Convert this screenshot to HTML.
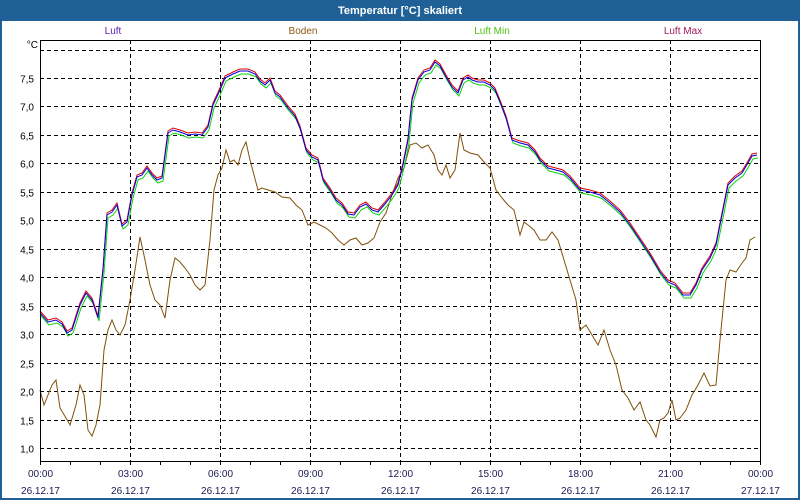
<!DOCTYPE html>
<html><head><meta charset="utf-8"><style>
html,body{margin:0;padding:0;width:800px;height:500px;overflow:hidden;background:#fff}
svg{display:block}
</style></head><body>
<svg id="s" width="800" height="500" xmlns="http://www.w3.org/2000/svg" font-family="Liberation Sans, sans-serif">
<rect x="0" y="0" width="800" height="500" fill="#fff"/>
<rect x="1" y="1" width="798" height="498" fill="none" stroke="#1f6196" stroke-width="2"/>
<rect x="0" y="0" width="800" height="21" fill="#1f6196"/>
<text x="400" y="14" text-anchor="middle" fill="#fff" font-size="11" font-weight="bold">Temperatur [°C] skaliert</text>
<text x="113" y="34" text-anchor="middle" fill="#5a1fb0" font-size="10">Luft</text>
<text x="303" y="34" text-anchor="middle" fill="#8a5a10" font-size="10">Boden</text>
<text x="492" y="34" text-anchor="middle" fill="#50c010" font-size="10">Luft Min</text>
<text x="683" y="34" text-anchor="middle" fill="#a01860" font-size="10">Luft Max</text>
<g id="grid" stroke="#000" stroke-width="1" stroke-dasharray="4,3" fill="none"></g>
<g id="lab" font-size="10" fill="#000"></g>
<g id="lines" fill="none" stroke-width="1"></g>
<rect x="40.5" y="40.5" width="720" height="421" fill="none" stroke="#000" stroke-width="1"/>
</svg>
<script>
var NS="http://www.w3.org/2000/svg";
function el(p,t,a,txt){var e=document.createElementNS(NS,t);for(var k in a)e.setAttribute(k,a[k]);if(txt)e.textContent=txt;document.getElementById(p).appendChild(e);}
function Y(v){return 78+(7.5-v)*56.92;}
for(var i=2;i<=16;i++){var v=i/2,y=Math.round(Y(v))+0.5;el("grid","line",{x1:40,x2:760,y1:y,y2:y});
 if(v<8)el("lab","text",{x:34,y:y+4,"text-anchor":"end"},v.toFixed(1).replace(".",","));}
el("lab","text",{x:38,y:48,"text-anchor":"end"},"°C");
for(var h=0;h<=24;h++){var x=40+h*30+0.5;
 if(h%3==0&&h>0&&h<24)el("grid","line",{x1:x,x2:x,y1:40,y2:461});
 el("lab","line",{x1:x,x2:x,y1:461,y2:465,stroke:"#000"});
 if(h%3==0){var hh=(h==24?"00":(h<10?"0"+h:""+h))+":00";
  el("lab","text",{x:x,y:477,"text-anchor":"middle",fill:"#1a1a50"},hh);
  el("lab","text",{x:x,y:494,"text-anchor":"middle",fill:"#1a1a50"},h==24?"27.12.17":"26.12.17");}}
var luft=[40,313,48,322,56,320,62,324,67,333,72,330,80,305,86,293,92,300,98,318,103,270,107,215,112,212,117,205,122,226,127,222,132,195,137,177,142,175,147,168,152,175,157,180,162,178,168,133,173,130,180,132,188,135,195,134,202,135,208,127,213,105,220,90,225,78,233,74,240,71,248,71,255,74,260,81,265,85,270,80,275,93,280,97,288,108,295,116,300,128,306,150,312,157,318,160,323,180,330,190,336,200,342,205,348,214,354,215,360,207,366,204,372,210,378,212,385,204,392,195,398,185,403,165,408,140,412,100,418,80,424,72,430,70,435,62,440,66,446,77,452,87,458,93,463,80,468,77,472,80,478,82,484,82,490,85,495,90,500,102,506,118,512,140,520,143,528,145,535,152,540,160,548,168,556,170,563,172,570,178,580,190,590,192,600,195,610,203,620,212,630,225,640,240,650,255,660,272,668,282,675,285,683,295,690,295,696,285,702,270,710,258,716,245,722,215,728,185,735,178,742,173,748,163,752,156,757,155];
var boden=[40,390,44,405,48,395,52,385,56,380,60,408,66,418,70,425,76,405,80,385,84,395,88,430,92,436,96,425,100,405,104,350,108,330,112,320,116,330,120,335,125,325,130,300,135,270,140,237,145,260,150,285,155,300,160,305,165,318,170,280,175,258,180,262,185,268,190,275,195,285,200,290,205,285,210,240,214,190,218,175,222,168,226,150,230,162,234,160,238,165,242,150,246,142,250,160,254,175,258,190,262,188,268,190,275,192,282,197,290,198,296,205,302,210,308,225,314,222,320,225,326,228,332,233,338,240,344,245,350,240,356,238,362,245,368,243,374,238,380,222,386,213,392,195,398,178,404,168,410,145,416,143,422,148,428,145,434,155,438,170,442,175,446,165,450,178,455,170,460,133,464,150,470,153,478,155,484,162,490,168,496,190,502,198,508,205,514,210,520,235,524,222,528,225,534,230,540,240,546,240,552,232,558,240,564,260,570,280,576,300,580,330,586,325,592,335,598,345,604,330,610,350,616,365,622,390,628,398,634,410,640,402,646,420,650,425,656,437,660,420,664,418,668,413,672,400,676,420,680,418,686,410,692,395,698,385,704,373,710,386,716,385,720,340,726,280,730,270,736,272,742,263,746,258,750,240,755,237];
function pts(a,dx,dy){var s=[];for(var i=0;i<a.length;i+=2)s.push((a[i]+dx)+","+(a[i+1]+dy));return s.join(" ");}
el("lines","polyline",{points:pts(boden,0,0),stroke:"#80500a"});
el("lines","polyline",{points:pts(luft,1,3),stroke:"#10d010"});
el("lines","polyline",{points:pts(luft,0,-2),stroke:"#e00000"});
el("lines","polyline",{points:pts(luft,0,0),stroke:"#0000e0"});
</script>
</body></html>
